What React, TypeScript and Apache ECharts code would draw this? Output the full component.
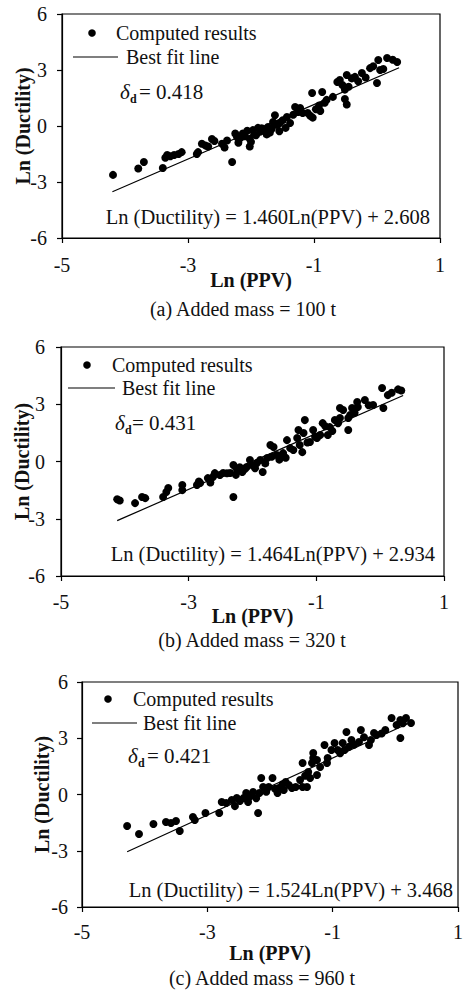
import React, { useEffect, useRef } from "react";
import * as echarts from "echarts";

const FONT = "'Liberation Serif', 'Times New Roman', serif";
const INK = "#000";

// axis ranges / ticks
const xTicks = [-5, -3, -1, 1];
const yTicks = [-6, -3, 0, 3, 6];

const captions = ["(a) Added mass = 100 t", "(b) Added mass = 320 t", "(c) Added mass = 960 t"];
const equations = [
  "Ln (Ductility) = 1.460Ln(PPV) + 2.608",
  "Ln (Ductility) = 1.464Ln(PPV) + 2.934",
  "Ln (Ductility) = 1.524Ln(PPV) + 3.468",
];
const deltas = ["= 0.418", "= 0.431", "= 0.421"];
const legendNames = ["Computed results", "Best fit line"];

const pointsA: [number, number][] = [
  [-4.19, -2.62], [-3.79, -2.28], [-3.7, -1.93], [-3.4, -2.25], [-3.36, -1.7], [-3.33, -1.55],
  [-3.28, -1.62], [-3.22, -1.55], [-3.15, -1.5], [-3.1, -1.4], [-2.86, -1.5], [-2.84, -1.4],
  [-2.78, -0.95], [-2.72, -1.05], [-2.68, -1.1], [-2.62, -0.7], [-2.58, -0.8], [-2.46, -0.95],
  [-2.42, -1.15], [-2.38, -0.78], [-2.3, -1.93], [-2.25, -0.4], [-2.22, -0.6], [-2.2, -0.9],
  [-2.17, -0.65], [-2.13, -0.4], [-2.1, -0.55], [-2.06, -0.25], [-2.02, -0.68], [-2.02, -1.1],
  [-2.0, -0.85], [-1.97, -0.22], [-1.95, -0.45], [-1.92, -0.5], [-1.89, -0.1], [-1.85, -0.3],
  [-1.83, -0.12], [-1.78, -0.2], [-1.75, -0.45], [-1.73, -0.05], [-1.7, -0.35], [-1.67, -0.15],
  [-1.65, 0.21], [-1.62, 0.58], [-1.58, 0.05], [-1.55, -0.28], [-1.54, 0.16], [-1.5, 0.3],
  [-1.45, -0.1], [-1.43, 0.48], [-1.38, 0.16], [-1.33, 0.6], [-1.3, 1.02], [-1.25, 0.75],
  [-1.22, 0.96], [-1.18, 0.7], [-1.1, 0.7], [-1.06, 0.55], [-1.03, 1.77], [-1.02, 0.45],
  [-0.97, 0.9], [-0.92, 1.1], [-0.9, 0.8], [-0.87, 1.82], [-0.83, 1.25], [-0.8, 1.4],
  [-0.7, 1.56], [-0.63, 2.36], [-0.59, 2.46], [-0.55, 2.2], [-0.51, 1.95], [-0.51, 1.45],
  [-0.48, 1.15], [-0.48, 2.73], [-0.45, 2.1], [-0.4, 2.55], [-0.35, 2.63], [-0.3, 2.4],
  [-0.24, 2.84], [-0.18, 2.6], [-0.11, 3.1], [-0.06, 3.2], [0.0, 2.3], [0.02, 3.54],
  [0.05, 3.0], [0.1, 3.05], [0.16, 3.64], [0.25, 3.55], [0.32, 3.43],
];
const fitA: [number, number][] = [[-4.2, -3.52], [0.35, 3.12]];

const pointsB: [number, number][] = [
  [-4.12, -1.98], [-4.08, -2.04], [-3.84, -2.18], [-3.73, -1.86], [-3.68, -1.92], [-3.4, -1.86],
  [-3.35, -1.6], [-3.32, -1.39], [-3.1, -1.23], [-3.1, -1.5], [-2.87, -1.23], [-2.84, -1.05],
  [-2.82, -1.13], [-2.7, -0.87], [-2.66, -1.1], [-2.62, -0.81], [-2.59, -0.61], [-2.51, -0.71],
  [-2.46, -0.6], [-2.4, -0.62], [-2.35, -0.6], [-2.3, -0.18], [-2.3, -1.86], [-2.26, -0.7],
  [-2.24, -0.45], [-2.2, -0.3], [-2.16, -0.55], [-2.12, -0.4], [-2.09, -0.29], [-2.04, 0.08],
  [-2.0, -0.2], [-1.96, -0.35], [-1.93, -0.08], [-1.88, 0.08], [-1.84, -0.55], [-1.8, -0.1],
  [-1.77, 0.18], [-1.72, 0.86], [-1.7, 0.25], [-1.67, 0.76], [-1.62, 0.34], [-1.58, 0.1],
  [-1.55, 0.3], [-1.52, 0.44], [-1.48, 0.2], [-1.46, 1.12], [-1.41, 0.7], [-1.36, 0.6],
  [-1.3, 1.23], [-1.28, 1.65], [-1.26, 0.86], [-1.22, 0.49], [-1.2, 1.49], [-1.18, 2.17],
  [-1.14, 1.0], [-1.1, 1.02], [-1.05, 1.65], [-1.02, 1.3], [-0.99, 1.23], [-0.94, 1.39],
  [-0.9, 2.01], [-0.86, 1.85], [-0.82, 1.39], [-0.79, 1.8], [-0.75, 1.6], [-0.71, 2.17],
  [-0.66, 2.0], [-0.63, 2.28], [-0.63, 2.8], [-0.58, 2.7], [-0.5, 2.28], [-0.5, 1.65],
  [-0.47, 2.44], [-0.44, 2.8], [-0.4, 2.55], [-0.36, 3.12], [-0.35, 2.86], [-0.24, 3.22],
  [-0.18, 2.95], [-0.11, 2.96], [0.03, 3.85], [0.05, 2.8], [0.12, 3.48], [0.18, 3.6],
  [0.28, 3.78], [0.33, 3.72],
];
const fitB: [number, number][] = [[-4.12, -3.1], [0.36, 3.46]];

const pointsC: [number, number][] = [
  [-4.28, -1.68], [-4.09, -2.11], [-3.86, -1.57], [-3.66, -1.47], [-3.58, -1.52], [-3.5, -1.41],
  [-3.44, -1.95], [-3.23, -1.2], [-3.2, -1.36], [-3.03, -0.99], [-2.81, -0.99], [-2.77, -0.4],
  [-2.7, -0.45], [-2.61, -0.29], [-2.56, -0.62], [-2.53, -0.19], [-2.48, -0.35], [-2.42, -0.19],
  [-2.38, 0.08], [-2.35, -0.4], [-2.33, -0.13], [-2.27, 0.13], [-2.22, -0.2], [-2.19, -0.99],
  [-2.17, 0.08], [-2.14, 0.88], [-2.11, 0.4], [-2.06, 0.15], [-2.02, 0.4], [-1.96, 0.88],
  [-1.92, 0.3], [-1.88, 0.08], [-1.86, 0.35], [-1.8, 0.55], [-1.78, 0.24], [-1.75, 0.67],
  [-1.7, 0.51], [-1.65, 0.35], [-1.59, 0.4], [-1.52, 0.77], [-1.48, 1.68], [-1.48, 0.4],
  [-1.44, 1.0], [-1.41, 0.4], [-1.39, 1.2], [-1.36, 0.88], [-1.33, 1.68], [-1.31, 1.95],
  [-1.31, 2.21], [-1.25, 1.04], [-1.25, 1.84], [-1.2, 1.47], [-1.13, 2.64], [-1.09, 1.68],
  [-1.08, 1.95], [-1.02, 2.37], [-0.97, 2.75], [-0.92, 2.37], [-0.88, 2.2], [-0.84, 2.75],
  [-0.81, 2.37], [-0.78, 3.33], [-0.74, 2.55], [-0.7, 2.91], [-0.66, 2.65], [-0.58, 2.8],
  [-0.55, 3.44], [-0.5, 3.05], [-0.42, 2.64], [-0.39, 2.91], [-0.34, 3.28], [-0.3, 3.17],
  [-0.22, 3.25], [-0.16, 3.44], [-0.06, 4.08], [0.02, 3.71], [0.08, 3.97], [0.08, 3.01],
  [0.12, 3.8], [0.17, 4.08], [0.25, 3.81],
];
const fitC: [number, number][] = [[-4.28, -3.05], [0.25, 3.85]];

const allPoints = [pointsA, pointsB, pointsC];
const allFits = [fitA, fitB, fitC];

// layout (positions only)
const grids = [
  { left: 62, top: 14, width: 378, height: 224 },
  { left: 61, top: 347, width: 383, height: 229 },
  { left: 82, top: 682, width: 383, height: 225 },
];
const xNameGap = [32, 30, 36];
const xLabelMargin = [17, 16, 15];
const yLabelMargin = [15, 16, 14];
const yNameGap = [29, 29, 30];
const layoutText = [
  { dot: [92, 33], t1: [116, 33], line: [73, 118, 57], t2: [126, 57], delta: [120, 92], sub: [130, 99], dv: [139, 92], eq: [430, 217], cap: [243, 309] },
  { dot: [87, 365], t1: [112, 365], line: [68, 115, 388], t2: [122, 388], delta: [115, 423], sub: [125, 430], dv: [132, 423], eq: [435, 554], cap: [252, 640] },
  { dot: [108, 699], t1: [133, 699], line: [92, 137, 723], t2: [143, 723], delta: [128, 756], sub: [138, 763], dv: [147, 756], eq: [453, 890], cap: [262, 978] },
];

function txt(x: number, y: number, text: string, opts: any = {}) {
  const align = opts.align || "left";
  return {
    type: "text",
    x,
    y,
    z: 100,
    style: {
      text,
      fill: "#111",
      fontFamily: FONT,
      fontSize: opts.size || 20,
      fontStyle: opts.italic ? "italic" : "normal",
      fontWeight: opts.bold ? "bold" : "normal",
      align,
      textAlign: align,
      verticalAlign: "middle",
      textVerticalAlign: "middle",
    },
  };
}

export default function App() {
  const ref = useRef<HTMLDivElement>(null);
  useEffect(() => {
    if (!ref.current) return;
    const chart = echarts.init(ref.current, undefined, { renderer: "svg" });
    const textStyle = { fontFamily: FONT, fontSize: 20, color: "#111" };
    const xAxis = grids.map((_, i) => ({
      gridIndex: i,
      type: "value",
      min: xTicks[0],
      max: xTicks[xTicks.length - 1],
      interval: 2,
      name: "Ln (PPV)",
      nameLocation: "middle",
      nameGap: xNameGap[i],
      nameMoveOverlap: false,
      nameTextStyle: { ...textStyle, fontWeight: "bold" },
      axisLine: { show: true, onZero: false, lineStyle: { color: "#000", width: 1.2 } },
      axisTick: { show: true, inside: false, length: 5, lineStyle: { color: "#000", width: 1.2 } },
      axisLabel: { ...textStyle, margin: xLabelMargin[i] },
      splitLine: { show: false },
    }));
    const yAxis = grids.map((_, i) => ({
      gridIndex: i,
      type: "value",
      min: yTicks[0],
      max: yTicks[yTicks.length - 1],
      interval: 3,
      name: "Ln (Ductility)",
      nameLocation: "middle",
      nameRotate: 90,
      nameGap: yNameGap[i],
      nameMoveOverlap: false,
      nameTextStyle: { ...textStyle, fontWeight: "bold" },
      axisLine: { show: true, onZero: false, lineStyle: { color: "#000", width: 1.2 } },
      axisTick: { show: true, inside: false, length: 5, lineStyle: { color: "#000", width: 1.2 } },
      axisLabel: { ...textStyle, margin: yLabelMargin[i] },
      splitLine: { show: false },
    }));
    const series: any[] = [];
    allPoints.forEach((pts, i) => {
      series.push({
        name: legendNames[0],
        type: "scatter",
        xAxisIndex: i,
        yAxisIndex: i,
        data: pts,
        symbol: "circle",
        symbolSize: 8,
        itemStyle: { color: INK, opacity: 1 },
        z: 3,
      });
      series.push({
        name: legendNames[1],
        type: "line",
        xAxisIndex: i,
        yAxisIndex: i,
        data: allFits[i],
        symbol: "none",
        showSymbol: false,
        lineStyle: { color: "#000", width: 1.2 },
        z: 4,
      });
    });
    const graphic: any[] = [];
    layoutText.forEach((L, i) => {
      graphic.push({
        type: "circle",
        shape: { cx: L.dot[0], cy: L.dot[1], r: 3.8 },
        style: { fill: INK },
        z: 100,
      });
      graphic.push(txt(L.t1[0], L.t1[1], legendNames[0]));
      graphic.push({
        type: "line",
        shape: { x1: L.line[0], y1: L.line[2], x2: L.line[1], y2: L.line[2] },
        style: { stroke: "#000", lineWidth: 1.2 },
        z: 100,
      });
      graphic.push(txt(L.t2[0], L.t2[1], legendNames[1]));
      graphic.push(txt(L.delta[0], L.delta[1], "δ", { italic: true, size: 21 }));
      graphic.push(txt(L.sub[0], L.sub[1], "d", { bold: true, size: 12 }));
      graphic.push(txt(L.dv[0], L.dv[1], deltas[i], { size: 21 }));
      graphic.push(txt(L.eq[0], L.eq[1], equations[i], { align: "right", size: 20.5 }));
      graphic.push(txt(L.cap[0], L.cap[1], captions[i], { align: "center", size: 20 }));
    });
    chart.setOption({
      animation: false,
      backgroundColor: "#fff",
      grid: grids.map((g) => ({ ...g, show: true, borderColor: "#000", borderWidth: 1.2, backgroundColor: "transparent" })),
      xAxis,
      yAxis,
      series,
      graphic,
    });
    return () => chart.dispose();
  }, []);
  return (
    <div
      ref={ref}
      style={{ position: "absolute", left: 0, top: 0, width: 466, height: 990, background: "#fff" }}
    />
  );
}
